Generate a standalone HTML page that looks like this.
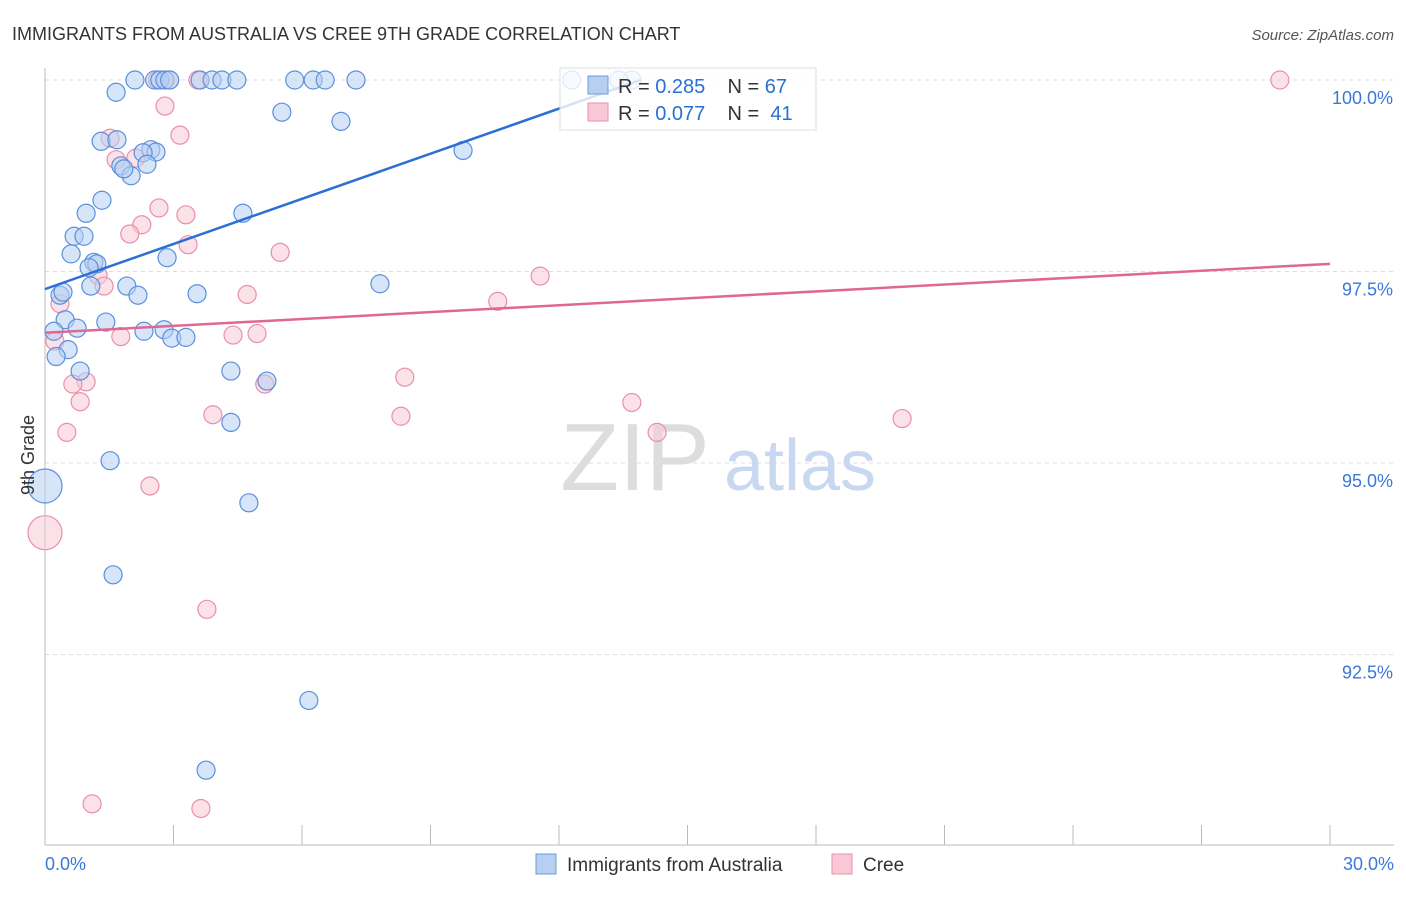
<!DOCTYPE html>
<html><head><meta charset="utf-8"><style>
body{margin:0;background:#fff;font-family:"Liberation Sans",sans-serif;}
svg text{font-family:"Liberation Sans",sans-serif;}
</style></head><body>
<svg id="chart" width="1406" height="892">
<text x="12" y="40" font-size="18" fill="#333">IMMIGRANTS FROM AUSTRALIA VS CREE 9TH GRADE CORRELATION CHART</text>
<text x="1394" y="40" font-size="15" fill="#555" font-style="italic" text-anchor="end">Source: ZipAtlas.com</text>
<g id="grid"></g>
<g id="axes"></g>
<text x="635" y="490" font-size="96" fill="#ddd" font-family="Liberation Serif" text-anchor="middle">ZIP</text>
<text x="800" y="490" font-size="72" fill="#c8d8f0" text-anchor="middle">atlas</text>
<g id="marks"></g>
<g>
<rect x="560" y="68" width="256" height="62" fill="#fff" fill-opacity="0.8" stroke="#ddd"/>
<rect x="588" y="76" width="20" height="18" fill="#b7d0f2" stroke="#6a9de0"/>
<rect x="588" y="103" width="20" height="18" fill="#f8c8d6" stroke="#ea8fab"/>
<text x="618" y="93" font-size="20" fill="#333" xml:space="preserve">R = <tspan fill="#2a6fd4">0.285</tspan>    N = <tspan fill="#2a6fd4">67</tspan></text>
<text x="618" y="120" font-size="20" fill="#333" xml:space="preserve">R = <tspan fill="#2a6fd4">0.077</tspan>    N =  <tspan fill="#2a6fd4">41</tspan></text>
</g>
<g>
<rect x="536" y="854" width="20" height="20" fill="#b7d0f2" stroke="#6a9de0"/>
<text x="567" y="871" font-size="19" fill="#333">Immigrants from Australia</text>
<rect x="832" y="854" width="20" height="20" fill="#f8c8d6" stroke="#ea8fab"/>
<text x="863" y="871" font-size="19" fill="#333">Cree</text>
</g>
<text transform="translate(34,455) rotate(-90)" font-size="18" fill="#333" text-anchor="middle">9th Grade</text>
</svg>
<script>
const yTicks=[100,97.5,95,92.5];
const yTickLabels=["100.0%","97.5%","95.0%","92.5%"];
const xTickLabels=["0.0%","30.0%"];
const blueX=[2.1,2.56,2.68,2.8,2.91,3.62,3.9,4.13,4.48,5.83,6.26,6.54,7.26,12.3,13.7,13.4,1.66,5.53,6.91,1.31,1.68,2.47,2.59,2.29,9.76,1.77,2.38,2.01,1.84,1.33,4.62,0.96,0.68,0.91,0.61,2.85,1.14,1.21,1.03,7.82,1.91,1.07,2.17,3.55,0.35,0.42,1.42,0.47,0.21,0.75,2.31,2.78,2.96,3.29,0.54,0.26,0.82,4.34,5.18,4.34,1.52,0.0,4.76,1.59,6.16,3.76];
const blueY=[100,100,100,100,100,100,100,100,100,100,100,100,100,100,100,100,99.84,99.58,99.46,99.2,99.22,99.09,99.06,99.05,99.08,98.88,98.9,98.75,98.84,98.43,98.26,98.26,97.96,97.96,97.73,97.68,97.62,97.6,97.55,97.34,97.31,97.31,97.19,97.21,97.19,97.23,96.84,96.87,96.72,96.76,96.72,96.74,96.63,96.64,96.48,96.39,96.2,96.2,96.07,95.53,95.03,94.7,94.48,93.54,91.9,90.99];
const pinkX=[2.63,2.91,3.57,28.83,2.8,3.15,1.52,2.12,1.66,2.66,3.29,2.26,1.98,3.34,5.49,11.56,1.24,1.38,4.72,10.57,0.35,4.39,1.77,4.95,0.23,0.96,0.65,5.13,8.4,0.82,3.92,8.31,13.7,20.01,14.29,0.51,2.45,0.0,3.78,1.1,3.64];
const pinkY=[100,100,100,100,99.66,99.28,99.24,98.98,98.96,98.33,98.24,98.11,97.99,97.85,97.75,97.44,97.45,97.31,97.2,97.11,97.08,96.67,96.65,96.69,96.59,96.06,96.03,96.03,96.12,95.8,95.63,95.61,95.79,95.58,95.4,95.4,94.7,94.09,93.09,90.55,90.49];
const blueBig=61, pinkBig=37;
const blueTrend=[97.27,100.0], blueTrendX=[0,13.9];
const pinkTrend=[96.7,97.6], pinkTrendX=[0,30];
const X0=45,X1=1330,Y100=80,PX25=191.5;
const sx=v=>X0+(v/30)*(X1-X0);
const sy=v=>Y100+(100-v)/2.5*PX25;
const NS="http://www.w3.org/2000/svg";
function mk(t,a,p){const e=document.createElementNS(NS,t);for(const k in a)e.setAttribute(k,a[k]);p.appendChild(e);return e;}
const grid=document.getElementById('grid'),axes=document.getElementById('axes'),marks=document.getElementById('marks');
yTicks.forEach((v,i)=>{
 const l=mk('line',{x1:X0,x2:1394,y1:sy(v),y2:sy(v),stroke:'#ddd','stroke-dasharray':'4,4'},grid);
 
 
 const t=mk('text',{x:1393,y:sy(v)+24,'font-size':18,fill:'#3a78d8','text-anchor':'end'},axes);
 t.textContent=yTickLabels[i];
 
 
});
const ax=mk('line',{x1:X0,x2:1394,y1:845,y2:845,stroke:'#bbb'},axes);


const ay=mk('line',{x1:X0,x2:X0,y1:68,y2:845,stroke:'#bbb'},axes);


for(let i=0;i<=10;i++){const x=X0+i*(X1-X0)/10;const tk=mk('line',{x1:x,x2:x,y1:825,y2:845,stroke:'#bbb'},axes);
 
 }
const xl0=mk('text',{x:45,y:870,'font-size':18,fill:'#3a78d8'},axes);xl0.textContent=xTickLabels[0];


const xl1=mk('text',{x:1394,y:870,'font-size':18,fill:'#3a78d8','text-anchor':'end'},axes);xl1.textContent=xTickLabels[1];


function pts(X,Y,big,fill,stroke,name){X.forEach((x,i)=>{const c=mk('circle',{cx:sx(x),cy:sy(Y[i]),r:i===big?17:9,fill:fill,'fill-opacity':0.55,stroke:stroke,'stroke-width':1.2},marks);
 
 });}
pts(pinkX,pinkY,pinkBig,'#f8c8d6','#ea8fab','cree-point');
pts(blueX,blueY,blueBig,'#b7d0f2','#5a90dc','australia-point');
const bl=mk('line',{x1:sx(blueTrendX[0]),y1:sy(blueTrend[0]),x2:sx(blueTrendX[1]),y2:sy(blueTrend[1]),stroke:'#2a6fd4','stroke-width':2.5},marks);


const pl=mk('line',{x1:sx(pinkTrendX[0]),y1:sy(pinkTrend[0]),x2:sx(pinkTrendX[1]),y2:sy(pinkTrend[1]),stroke:'#e06890','stroke-width':2.5},marks);


</script>
</body></html>
